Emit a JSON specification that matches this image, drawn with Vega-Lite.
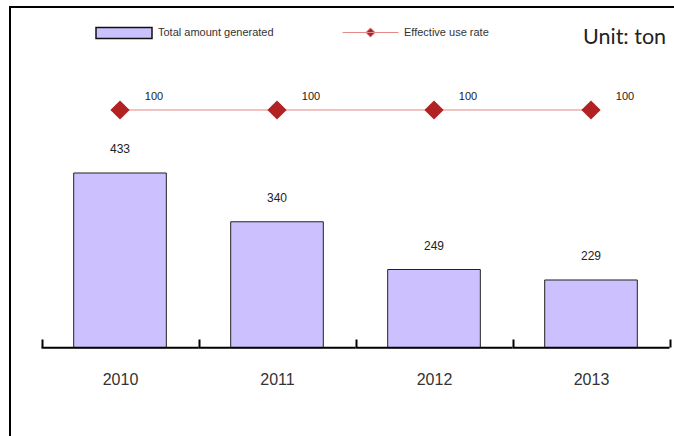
{
  "$schema": "https://vega.github.io/schema/vega-lite/v6.json",
  "width": 680,
  "height": 436,
  "autosize": {"type": "none"},
  "padding": {"left": 10, "top": 7, "right": 0, "bottom": 0},
  "background": "white",
  "title": {"text": "Unit: ton", "anchor": "start", "frame": "group", "orient": "top", "offset": 0, "baseline": "alphabetic", "dx": 573, "dy": 61, "font": "Lato", "fontSize": 21.5, "fontWeight": "normal", "color": "#222"},
  "config": {
    "view": {"stroke": "black", "strokeWidth": 2},
    "axisX": {"title": null, "domain": false, "tickBand": "extent", "tickSize": -8, "tickWidth": 2, "tickColor": "black", "offset": -96, "labelPadding": 32, "labelFontSize": 16, "labelFont": "Liberation Sans", "labelColor": "#333", "labelAngle": 0, "grid": false}
  },
  "data": {"values": [
    {"year": "2010", "amount": 433, "rate": 100},
    {"year": "2011", "amount": 340, "rate": 100},
    {"year": "2012", "amount": 249, "rate": 100},
    {"year": "2013", "amount": 229, "rate": 100}
  ]},
  "encoding": {
    "x": {"field": "year", "type": "ordinal", "scale": {"paddingInner": 0, "paddingOuter": 0.1656, "align": 0.606}, "axis": {}}
  },
  "layer": [
    {
      "layer": [
        {
          "mark": {"type": "bar", "width": {"band": 0.59}, "stroke": "#222", "strokeWidth": 1},
          "encoding": {
            "y": {"field": "amount", "type": "quantitative", "scale": {"domain": [-81.8, 749.5], "nice": false, "zero": false}, "axis": null},
            "y2": {"datum": 100},
            "fill": {"datum": "Total amount generated", "scale": {"range": ["#ccc0ff"]},
              "legend": {"orient": "none", "legendX": 85, "legendY": -3, "direction": "horizontal", "title": null, "padding": 0,
                "labelFontSize": 11, "labelFont": "Liberation Sans", "labelColor": "#333", "labelOffset": 5, "symbolSize": 3136,
                "symbolType": "M-1,-0.196H1V0.196H-1Z", "symbolStrokeColor": "#111", "symbolStrokeWidth": 1.5, "symbolOpacity": 1}}
          }
        },
        {
          "mark": {"type": "text", "baseline": "middle", "dy": -24, "font": "Liberation Sans", "fontSize": 12, "fill": "#222"},
          "encoding": {
            "y": {"field": "amount", "type": "quantitative", "axis": null},
            "text": {"field": "amount", "type": "quantitative"}
          }
        },
        {
          "mark": {"type": "tick", "size": 157, "thickness": 2, "color": "black", "opacity": 1},
          "encoding": {
            "y": {"datum": 100, "type": "quantitative", "axis": null}
          }
        }
      ]
    },
    {
      "layer": [
        {
          "mark": {"type": "line", "strokeWidth": 1},
          "encoding": {
            "y": {"field": "rate", "type": "quantitative", "scale": {"domain": [0, 130.93], "nice": false, "zero": false}, "axis": null},
            "stroke": {"datum": "Effective use rate", "scale": {"range": ["#e48888"]},
              "legend": {"orient": "none", "legendX": 332, "legendY": -3, "direction": "horizontal", "title": null, "padding": 0,
                "labelFontSize": 11, "labelFont": "Liberation Sans", "labelColor": "#333", "labelOffset": 5, "symbolSize": 3136,
                "symbolType": "M-1,0H1M-0.165,0L0,-0.165L0.165,0L0,0.165Z", "symbolFillColor": "#b22222", "symbolStrokeWidth": 1, "symbolOpacity": 1}}
          }
        },
        {
          "mark": {"type": "point", "shape": "diamond", "size": 370, "filled": true, "fill": "#b22222", "opacity": 1, "strokeWidth": 0},
          "encoding": {
            "y": {"field": "rate", "type": "quantitative", "axis": null}
          }
        },
        {
          "mark": {"type": "text", "baseline": "middle", "dx": 34, "dy": -13, "font": "Liberation Sans", "fontSize": 11, "fill": "#222"},
          "encoding": {
            "y": {"field": "rate", "type": "quantitative", "axis": null},
            "text": {"field": "rate", "type": "quantitative"}
          }
        }
      ]
    }
  ],
  "resolve": {"scale": {"y": "independent"}}
}
